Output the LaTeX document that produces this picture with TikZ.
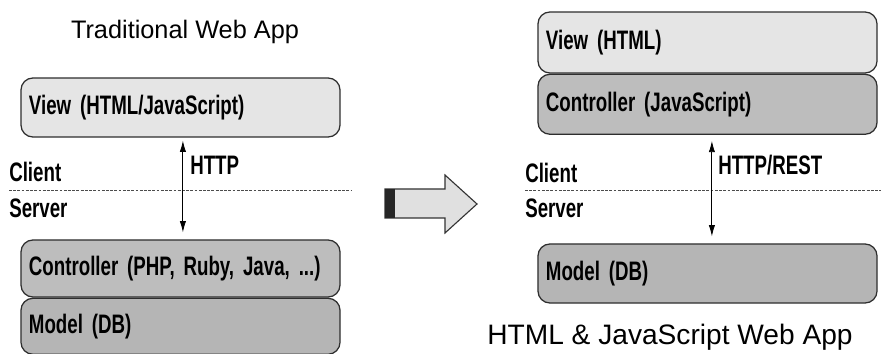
\documentclass[tikz,border=0pt]{standalone}
\usepackage{fontspec}
\setmainfont{Liberation Sans}
\newfontfamily\layerfont[FakeStretch=0.7]{Liberation Sans}
\usepackage{xcolor}
\usepackage{tikz}
\usetikzlibrary{arrows.meta, positioning}

\definecolor{viewgray}{gray}{0.90}
\definecolor{ctrlgray}{gray}{0.74}
\definecolor{modelgray}{gray}{0.71}
\definecolor{edgegray}{gray}{0.18}

\begin{document}
\begin{tikzpicture}[
    x=0.025cm, y=-0.025cm,
    layer/.style={draw=edgegray, line width=0.9pt, rounded corners=0.3cm, inner xsep=0.2cm,
      inner ysep=0pt, align=left, anchor=center, font=\layerfont\bfseries\fontsize{19}{22}\selectfont},
    leftlayer/.style={layer, text width=7.575cm},
    rightlayer/.style={layer, text width=8.075cm},
    sidelabel/.style={inner sep=0pt, anchor=base west, font=\layerfont\bfseries\fontsize{19}{22}\selectfont},
    apptitle/.style={inner sep=0pt, font=\fontsize{18}{22}\selectfont},
    divider/.style={draw=black!70, line width=0.7pt, dash pattern=on 2pt off 1pt},
    request/.style={draw, line width=0.6pt, {Latex[length=8pt,width=4.5pt]}-{Latex[length=8pt,width=4.5pt]}}
  ]
  \useasboundingbox (0,0) rectangle (881,354);

  % traditional web app
  \node[apptitle] (titleL) at (185,32) {Traditional Web App};
  \node[leftlayer, fill=viewgray, minimum height=1.475cm] (viewL) at (180.5,107.5) {View (HTML/JavaScript)};
  \node[leftlayer, fill=ctrlgray, minimum height=1.425cm] (ctrlL) at (180.5,268.5) {Controller (PHP, Ruby, Java, ...)};
  \node[leftlayer, fill=modelgray, minimum height=1.4cm, below=0pt of ctrlL] (modelL) {Model (DB)};

  \coordinate (divLa) at (9,190);
  \coordinate (divLb) at (351,190);
  \draw[divider] (divLa) -- (divLb);
  \node[sidelabel] (clientL) at (9,182) {Client};
  \node[sidelabel] (serverL) at (9,217) {Server};
  \draw[request, shorten <=0.075cm, shorten >=0.175cm] ([xshift=0.06cm]viewL.south) -- ([xshift=0.06cm]ctrlL.north);
  \node[sidelabel] (httpL) at (190,175) {HTTP};

  % transition arrow
  \filldraw[fill=black!12, draw=black!80, line width=0.8pt]
    (385,189) -- (445,189) -- (445,175) -- (477,204) -- (445,233) -- (445,218) -- (385,218) -- cycle;
  \fill[black!85] (385,189) rectangle (395,218);

  % html & javascript web app
  \node[rightlayer, fill=viewgray, minimum height=1.525cm] (viewR) at (707.5,42.5) {View (HTML)};
  \node[rightlayer, fill=ctrlgray, minimum height=1.5cm, below=0pt of viewR] (ctrlR) {Controller (JavaScript)};
  \node[rightlayer, fill=modelgray, minimum height=1.475cm] (modelR) at (707.5,273.5) {Model (DB)};
  \node[apptitle, font=\fontsize{20}{24}\selectfont] (titleR) at (670,337) {HTML \& JavaScript Web App};

  \coordinate (divRa) at (525,190);
  \coordinate (divRb) at (881,190);
  \draw[divider] (divRa) -- (divRb);
  \node[sidelabel] (clientR) at (525,183) {Client};
  \node[sidelabel] (serverR) at (525,217) {Server};
  \draw[request, shorten <=0.15cm, shorten >=0.175cm] ([xshift=0.11cm]ctrlR.south) -- ([xshift=0.11cm]modelR.north);
  \node[sidelabel] (httpR) at (718,175) {HTTP/REST};
\end{tikzpicture}
\end{document}
